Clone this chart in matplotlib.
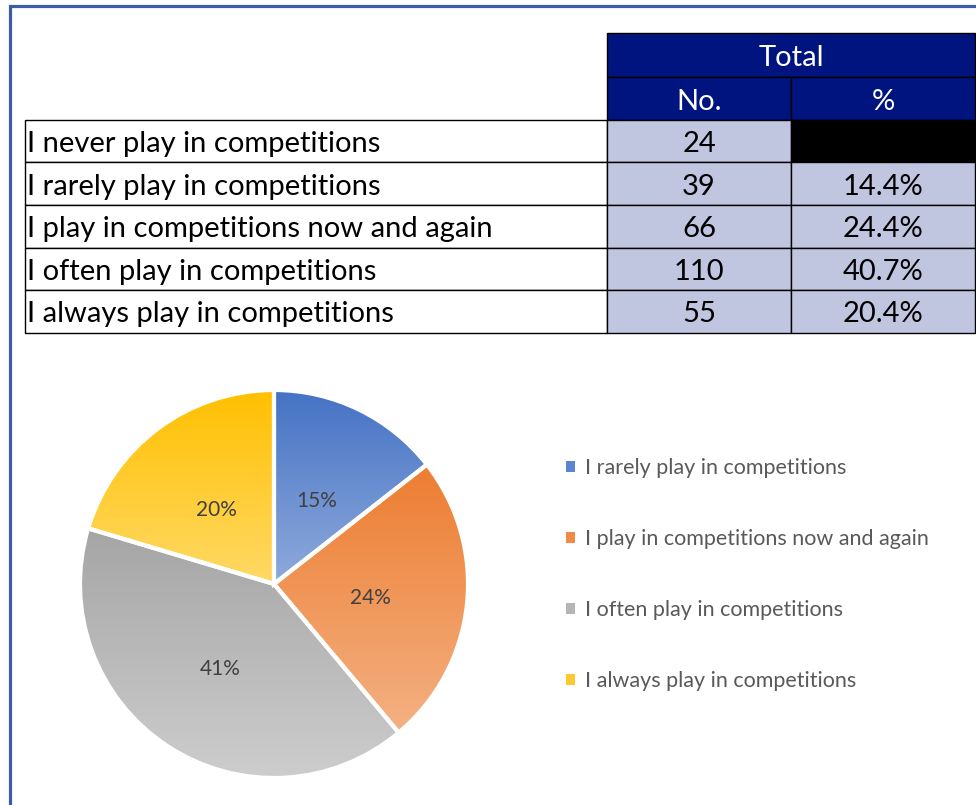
import numpy as np
import matplotlib.pyplot as plt
from matplotlib.patches import Rectangle, Patch
from matplotlib.colors import LinearSegmentedColormap

plt.rcParams['font.family'] = ['Lato', 'DejaVu Sans']

# table data
row_labels = ['I never play in competitions', 'I rarely play in competitions',
              'I play in competitions now and again', 'I often play in competitions',
              'I always play in competitions']
counts = [24, 39, 66, 110, 55]
pct_labels = ['', '14.4%', '24.4%', '40.7%', '20.4%']
header_top = 'Total'
header_cols = ['No.', '%']

# pie data (the "never" row is left out of the chart)
pie_labels = row_labels[1:]
pie_values = counts[1:]
pie_pct = ['15%', '24%', '41%', '20%']
grad_top = ['#4472C4', '#ED7D31', '#A5A5A5', '#FFC000']
grad_bottom = ['#8FAADC', '#F4B183', '#CDCDCD', '#FFD966']
legend_colors = ['#5B85D0', '#F08A45', '#B5B5B5', '#FFC830']

W, H = 976, 805
fig = plt.figure(figsize=(W / 100, H / 100), dpi=100)

# full-figure axes in pixel units for the frame and the table
bg = fig.add_axes([0, 0, 1, 1])
bg.set_xlim(0, W)
bg.set_ylim(H, 0)
bg.axis('off')

# blue frame
bg.plot([9.5, 9.5, W + 5], [H + 5, 6.5, 6.5], color='#3B5CA6', lw=2.3,
        solid_joinstyle='miter', clip_on=False)

navy = '#001480'
lav = '#C1C6E0'
fs = 21
dy = 3  # text sits a little below the cell middle
label_x0, col_x = 25, [607, 791, 975]
hdr_y = [33, 77, 120]
row_h = 42.5

# header rows
bg.add_patch(Rectangle((col_x[0], hdr_y[0]), col_x[2] - col_x[0], hdr_y[1] - hdr_y[0],
                       facecolor=navy, edgecolor='black', lw=1))
bg.text((col_x[0] + col_x[2]) / 2, (hdr_y[0] + hdr_y[1]) / 2 + dy, header_top,
        color='white', fontsize=fs, ha='center', va='center')
for j, name in enumerate(header_cols):
    bg.add_patch(Rectangle((col_x[j], hdr_y[1]), col_x[j + 1] - col_x[j], hdr_y[2] - hdr_y[1],
                           facecolor=navy, edgecolor='black', lw=1))
    bg.text((col_x[j] + col_x[j + 1]) / 2, (hdr_y[1] + hdr_y[2]) / 2 + dy, name,
            color='white', fontsize=fs, ha='center', va='center')

# body rows
for i, label in enumerate(row_labels):
    y0 = hdr_y[2] + i * row_h
    yc = y0 + row_h / 2 + dy
    bg.add_patch(Rectangle((label_x0, y0), col_x[0] - label_x0, row_h,
                           facecolor='white', edgecolor='black', lw=1))
    bg.text(label_x0 + 2, yc, label, fontsize=fs, ha='left', va='center', color='black')
    bg.add_patch(Rectangle((col_x[0], y0), col_x[1] - col_x[0], row_h,
                           facecolor=lav, edgecolor='black', lw=1))
    bg.text((col_x[0] + col_x[1]) / 2, yc, str(counts[i]), fontsize=fs,
            ha='center', va='center', color='black')
    pct_face = 'black' if pct_labels[i] == '' else lav
    bg.add_patch(Rectangle((col_x[1], y0), col_x[2] - col_x[1], row_h,
                           facecolor=pct_face, edgecolor='black', lw=1))
    bg.text((col_x[1] + col_x[2]) / 2, yc, pct_labels[i], fontsize=fs,
            ha='center', va='center', color='black')

# pie chart
cx, cy, r = 274, 584, 194
ax = fig.add_axes([(cx - r) / W, (H - cy - r) / H, 2 * r / W, 2 * r / H])
wedges, texts = ax.pie(pie_values, startangle=90, counterclock=False, radius=1,
                       wedgeprops=dict(edgecolor='white', linewidth=3, facecolor='none'))
for k, w in enumerate(wedges):
    w.set_zorder(3)
    w.set_clip_on(False)
    bb = w.get_path().get_extents()
    cmap = LinearSegmentedColormap.from_list('g%d' % k, [grad_bottom[k], grad_top[k]])
    im = ax.imshow(np.linspace(0, 1, 256).reshape(-1, 1), cmap=cmap, origin='lower',
                   extent=(bb.x0, bb.x1, bb.y0, bb.y1), aspect='auto', zorder=2)
    im.set_clip_path(w)
    frac = pie_values[k] / sum(pie_values)
    mid = np.deg2rad(90 - 360 * (sum(pie_values[:k]) / sum(pie_values) + frac / 2))
    ax.text(0.5 * np.cos(mid), 0.5 * np.sin(mid) - 0.02, pie_pct[k],
            ha='center', va='center', fontsize=15, color='#404040', zorder=4)
ax.set_xlim(-1, 1)
ax.set_ylim(-1, 1)
ax.set_aspect('equal')
ax.axis('off')

handles = [Patch(facecolor=c, edgecolor='none') for c in legend_colors]
fig.legend(handles, pie_labels, loc='upper left', bbox_to_anchor=(547 / W, 1 - 439 / H),
           frameon=False, fontsize=15.5, handlelength=0.4, handleheight=0.4,
           handletextpad=0.45, labelspacing=2.36, labelcolor='#595959')

fig.savefig('out.png', dpi=100)
